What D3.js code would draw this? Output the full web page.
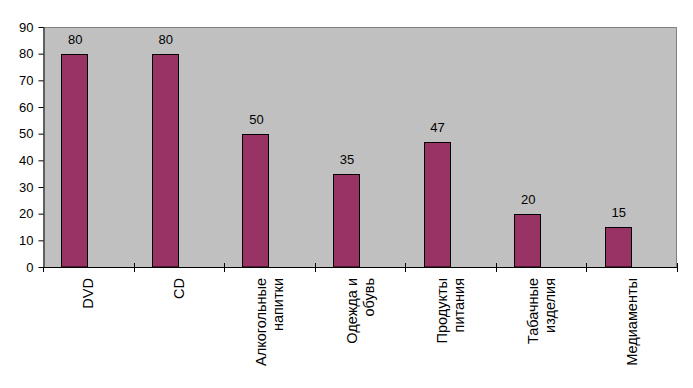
<!DOCTYPE html>
<html>
<head>
<meta charset="utf-8">
<script src="https://cdn.jsdelivr.net/npm/d3@7"></script>
<style>
  body { margin: 0; background: #fff; }
  text { font-family: "Liberation Sans", Arial, sans-serif; }
</style>
</head>
<body>
<svg id="chart"></svg>
<script>
// Data.
const categories = ["DVD", "CD", "Алкогольные напитки", "Одежда и обувь", "Продукты питания", "Табачные изделия", "Медиаменты"];
const labelLines = [["DVD"], ["CD"], ["Алкогольные", "напитки"], ["Одежда и", "обувь"], ["Продукты", "питания"], ["Табачные", "изделия"], ["Медиаменты"]];
const values = [80, 80, 50, 35, 47, 20, 15];
const yTicks = [0, 10, 20, 30, 40, 50, 60, 70, 80, 90];

const margin = { top: 27, right: 16, bottom: 121, left: 43 };
const width = 693 - margin.left - margin.right;
const height = 388 - margin.top - margin.bottom;

const svg = d3.select("#chart")
    .attr("width", 693)
    .attr("height", 388);

const xScale = d3.scaleBand()
    .domain(categories)
    .range([0, width]);

const yScale = d3.scaleLinear()
    .domain([0, 90])
    .range([height, 0]);

const barWidth = 26;

const g = svg.append("g")
    .attr("transform", "translate(" + margin.left + "," + margin.top + ")");

// Plot area.
g.append("rect")
    .attr("width", width)
    .attr("height", height)
    .attr("fill", "#c0c0c0");
g.append("path")
    .attr("d", "M0,0.5H" + (width - 0.5) + "V" + height)
    .attr("fill", "none")
    .attr("stroke", "#808080");

// Bars: sit left of the band centre.
g.selectAll("rect.bar")
    .data(values)
    .enter().append("rect")
    .attr("class", "bar")
    .attr("x", (d, i) => Math.round(xScale(categories[i]) + xScale.bandwidth() / 2 - barWidth) - 0.5)
    .attr("y", d => Math.round(yScale(d)) + 0.5)
    .attr("width", barWidth)
    .attr("height", d => height - Math.round(yScale(d)) - 0.5)
    .attr("fill", "#993366")
    .attr("stroke", "#000")
    .attr("stroke-width", 1);

// Value labels.
g.selectAll("text.val")
    .data(values)
    .enter().append("text")
    .attr("class", "val")
    .attr("x", (d, i) => xScale(categories[i]) + xScale.bandwidth() / 2 - barWidth / 2)
    .attr("y", d => yScale(d) - 10)
    .attr("text-anchor", "middle")
    .attr("font-size", 13)
    .text(d => d);

// Y axis.
const yAxis = g.append("g")
    .attr("transform", "translate(0.5,0)")
    .call(d3.axisLeft(yScale).tickValues(yTicks).tickSize(5).tickPadding(5).tickSizeOuter(0));
yAxis.select(".domain").attr("stroke", "#000");
yAxis.selectAll("text").attr("font-size", 13).attr("font-family", "Liberation Sans, Arial, sans-serif").attr("fill", "#000");

// X axis line and crossing ticks at band edges.
g.append("line")
    .attr("x1", 0).attr("x2", width)
    .attr("y1", height + 0.5).attr("y2", height + 0.5)
    .attr("stroke", "#000");
const edges = categories.map(c => xScale(c)).concat([width]);
g.selectAll("line.xt")
    .data(edges)
    .enter().append("line")
    .attr("class", "xt")
    .attr("x1", d => Math.round(d) + 0.5).attr("x2", d => Math.round(d) + 0.5)
    .attr("y1", (d, i) => i === 0 ? height : height - 4)
    .attr("y2", height + 5)
    .attr("stroke", "#000");

// Category labels, rotated.
const lineGap = 17;
labelLines.forEach((lines, i) => {
    const cx = xScale(categories[i]) + xScale.bandwidth() / 2;
    const t = g.append("text")
        .attr("transform", "translate(" + cx + "," + (height + 11) + ") rotate(-90)")
        .attr("text-anchor", "end")
        .attr("font-size", 14.5);
    lines.forEach((s, j) => {
        t.append("tspan")
            .attr("x", 0)
            .attr("y", (j - (lines.length - 1) / 2) * lineGap + 5)
            .text(s);
    });
});
</script>
</body>
</html>
